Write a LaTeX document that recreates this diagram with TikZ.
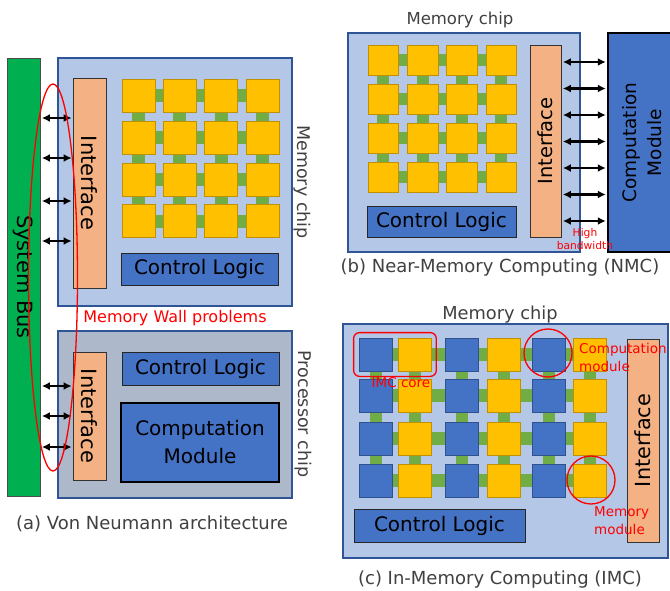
\documentclass[tikz,border=0pt]{standalone}
\usepackage{fontspec}
\setmainfont{DejaVu Sans}
\usetikzlibrary{arrows.meta,fit}
\definecolor{memfill}{HTML}{B4C7E7}
\definecolor{cpufill}{HTML}{ADB9CA}
\definecolor{chipline}{HTML}{2F5597}
\definecolor{busgreen}{HTML}{00B050}
\definecolor{cellyellow}{HTML}{FFC000}
\definecolor{cellrim}{HTML}{BF9000}
\definecolor{linkgreen}{HTML}{70AD47}
\definecolor{blockblue}{HTML}{4472C4}
\definecolor{blockrim}{HTML}{2F528F}
\definecolor{ifacefill}{HTML}{F4B183}
\definecolor{labelgray}{HTML}{404040}
\def\fsz#1#2{\fontsize{#1}{#2}\selectfont}
\pgfdeclarelayer{back}
\pgfdeclarelayer{links}
\pgfsetlayers{back,links,main}

\tikzset{
  chip/.style={draw=chipline, line width=1.6pt, fill=memfill, inner sep=0pt},
  busbar/.style={draw=black!70, line width=0.8pt, fill=busgreen, inner sep=0pt},
  memcell/.style={draw=cellrim, line width=0.6pt, fill=cellyellow, minimum size=33, inner sep=0pt},
  cpucell/.style={draw=blockrim, line width=0.8pt, fill=blockblue, minimum size=33, inner sep=0pt},
  ctrlbox/.style={draw=black!85, line width=0.8pt, fill=blockblue, inner sep=0pt, font=\fsz{20}{24}},
  compbox/.style={draw=black, line width=2.4pt, fill=blockblue, inner sep=0pt},
  ifbox/.style={draw=black!80, line width=0.8pt, fill=ifacefill, inner sep=0pt},
  boxtext/.style={inner sep=0pt, font=\fsz{21}{25}},
  link/.style={draw=linkgreen, line width=13pt},
  biarrow/.style={<->, >={Latex[length=8pt,width=8pt]}, line width=2.2pt, shorten <=1.5pt, shorten >=1pt},
  redmark/.style={draw=red, line width=1.3pt},
  redbox/.style={redmark, rounded corners=6pt, inner sep=5pt},
  redring/.style={redmark, circle, minimum size=48, inner sep=0pt},
  rednote/.style={text=red, inner sep=0pt, font=\fsz{13.5}{18}},
  chiplabel/.style={text=labelgray, inner sep=0pt, font=\fsz{17.5}{21}},
  caption/.style={text=labelgray, inner sep=0pt, font=\fsz{18}{22}}
}

\begin{document}
\begin{tikzpicture}[x=1pt,y=-1pt]
\useasboundingbox (0,0) rectangle (670,591);
\clip (0,0) rectangle (670,591);

%%%%% CHIP OUTLINES %%%%%
\begin{pgfonlayer}{back}
\node[chip, minimum width=234, minimum height=248] (amem) at (175,182) {};
\node[chip, fill=cpufill, minimum width=234, minimum height=167] (acpu) at (175,414.5) {};
\node[chip, minimum width=232, minimum height=219] (bmem) at (464,142.5) {};
\node[chip, minimum width=325, minimum height=234] (cmem) at (505.5,441) {};
\end{pgfonlayer}

%%%%% (a) VON NEUMANN %%%%%
\node[busbar, minimum width=33, minimum height=438] (bus) at (23.5,277) {};
\node[boxtext, rotate=-90] (bustext) at (bus) {System Bus};

\foreach \i in {1,...,4} {
  \foreach \j in {1,...,4} {
    \node[memcell] (a-\i-\j) at ({138.5+41.3*(\j-1)},{96+41.7*(\i-1)}) {};
  }
}
\begin{pgfonlayer}{links}
\foreach \i in {1,...,4} {
  \foreach \j [evaluate=\j as \k using int(\j+1)] in {1,2,3} {
    \draw[link] (a-\i-\j) -- (a-\i-\k);
    \draw[link] (a-\j-\i) -- (a-\k-\i);
  }
}
\end{pgfonlayer}

\node[ifbox, minimum width=33, minimum height=210] (amemif) at (89.5,183) {};
\node[boxtext, rotate=-90] at (amemif) {Interface};
\node[ctrlbox, minimum width=157, minimum height=32] (actrl) at (199.5,269) {Control Logic};
\node[chiplabel, rotate=-90] (amemlbl) at (302,182) {Memory chip};

\node[ifbox, minimum width=33, minimum height=128] (acpuif) at (89.5,416) {};
\node[boxtext, rotate=-90] at (acpuif) {Interface};
\node[ctrlbox, minimum width=157, minimum height=33] (acpuctrl) at (200.5,368.5) {Control Logic};
\node[compbox, minimum width=158, minimum height=79, align=center, font=\fsz{20}{28}] (acomp) at (200,442.5) {Computation\\Module};
\node[chiplabel, rotate=-90] (acpulbl) at (303,414) {Processor chip};

\foreach \y in {118,158,201,241} {
  \draw[biarrow] (bus.east |- 0,\y) -- (amemif.west |- 0,\y);
}
\foreach \y in {386,416,447} {
  \draw[biarrow] (bus.east |- 0,\y) -- (acpuif.west |- 0,\y);
}

\draw[redmark] (53,277.5) ellipse [x radius=24.5, y radius=193.5];
\node[rednote, font=\fsz{16}{20}] (wall) at (175,318) {Memory Wall problems};
\node[caption] (capa) at (152,524) {(a) Von Neumann architecture};

%%%%% (b) NEAR-MEMORY %%%%%
\node[chiplabel, font=\fsz{16.5}{20}] (bmemlbl) at (460,20) {Memory chip};
\foreach \i in {1,...,4} {
  \foreach \j in {1,...,4} {
    \node[memcell, minimum size=30.5] (b-\i-\j) at ({383.25+39.3*(\j-1)},{60.5+39*(\i-1)}) {};
  }
}
\begin{pgfonlayer}{links}
\foreach \i in {1,...,4} {
  \foreach \j [evaluate=\j as \k using int(\j+1)] in {1,2,3} {
    \draw[link, line width=12pt] (b-\i-\j) -- (b-\i-\k);
    \draw[link, line width=12pt] (b-\j-\i) -- (b-\k-\i);
  }
}
\end{pgfonlayer}
\node[ctrlbox, minimum width=149, minimum height=31] (bctrl) at (441.5,221.5) {Control Logic};
\node[ifbox, minimum width=31, minimum height=192] (bif) at (545.5,141) {};
\node[boxtext, rotate=90, font=\fsz{19.5}{24}] at (bif) {Interface};
\node[compbox, minimum width=68, minimum height=219] (bcomp) at (642,142.5) {};
\node[boxtext, rotate=90, align=center, font=\fsz{18.5}{25}] at (bcomp) {Computation\\Module};
\foreach \y in {62,88.5,115,141.5,168,194.5,221} {
  \draw[biarrow] (bif.east |- 0,\y) -- (bcomp.west |- 0,\y);
}
\node[rednote, align=center, font=\fsz{10.7}{13}] (bw) at (585,239) {High\\bandwidth};
\node[caption] (capb) at (500,268) {(b) Near-Memory Computing (NMC)};

%%%%% (c) IN-MEMORY %%%%%
\node[chiplabel, font=\fsz{17.8}{21}] (cmemlbl) at (500,315) {Memory chip};
\foreach \x/\j in {375.5/1,461.5/3,548.5/5} {
  \foreach \y [count=\i] in {354.5,395.5,438.5,480.5} {
    \node[cpucell] (c-\i-\j) at (\x,\y) {};
  }
}
\foreach \x/\j in {414.5/2,503.5/4,589.5/6} {
  \foreach \y [count=\i] in {354.5,395.5,438.5,480.5} {
    \node[memcell] (c-\i-\j) at (\x,\y) {};
  }
}
\begin{pgfonlayer}{links}
\foreach \i in {1,...,4} {
  \foreach \j [evaluate=\j as \k using int(\j+1)] in {1,...,5} {
    \draw[link] (c-\i-\j) -- (c-\i-\k);
  }
}
\foreach \j in {1,...,6} {
  \foreach \i [evaluate=\i as \k using int(\i+1)] in {1,2,3} {
    \draw[link, line width=12pt] (c-\i-\j) -- (c-\k-\j);
  }
}
\end{pgfonlayer}
\node[ctrlbox, minimum width=171, minimum height=33] (cctrl) at (439.5,525.5) {Control Logic};
\node[ifbox, minimum width=32, minimum height=203] (cif) at (643,440.5) {};
\node[boxtext, rotate=90, font=\fsz{20.8}{25}] at (cif) {Interface};

\node[redbox, fit=(c-1-1)(c-1-2)] (core) {};
\node[rednote] (corelbl) at (401,383) {IMC core};
\node[redring] (compring) at (548,353) {};
\node[rednote, anchor=west, align=left] (complbl) at (579,357) {Computation\\module};
\node[redring] (memring) at (591,480) {};
\node[rednote, anchor=west, align=left] (memlbl) at (594,521) {Memory\\module};
\node[caption] (capc) at (500,580) {(c) In-Memory Computing (IMC)};
\end{tikzpicture}
\end{document}
